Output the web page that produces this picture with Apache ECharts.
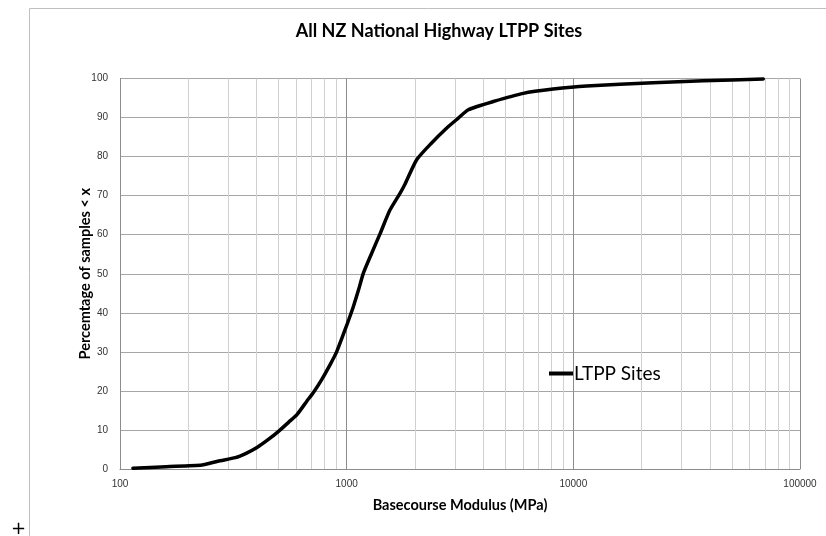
<!DOCTYPE html>
<html>
<head>
<meta charset="utf-8">
<script src="https://cdn.jsdelivr.net/npm/echarts@6/dist/echarts.min.js"></script>
<style>
html,body{margin:0;padding:0;background:#fff;}
#chart{width:826px;height:536px;}
</style>
</head>
<body>
<div id="chart"></div>
<script>
// Basecourse modulus (MPa) and cumulative percentage of samples < x
var modulus = [114, 160, 230, 270, 323, 360, 402, 450, 502, 555, 605, 666, 717, 776, 850, 903, 983, 1069, 1130, 1184, 1288, 1403, 1552, 1719, 1810, 2036, 2353, 2787, 3100, 3440, 4434, 6011, 8147, 11450, 22500, 37400, 68900];
var percent = [0.2, 0.6, 1.0, 2.0, 2.9, 4.0, 5.5, 7.5, 9.7, 12.0, 14.0, 17.3, 19.8, 22.9, 27.0, 30.0, 35.6, 41.5, 46.0, 50.1, 55.2, 60.2, 66.3, 70.6, 73.0, 79.2, 83.3, 87.5, 89.8, 92.0, 94.1, 96.2, 97.3, 98.1, 98.9, 99.4, 99.9];
var xTickLabels = [100, 1000, 10000, 100000];
var yTickLabels = [0, 10, 20, 30, 40, 50, 60, 70, 80, 90, 100];
var minorXLines = [200,300,400,500,600,700,800,900,2000,3000,4000,5000,6000,7000,8000,9000,20000,30000,40000,50000,60000,70000,80000,90000];
var seriesName = 'LTPP Sites';
var titleText = 'All NZ National Highway LTPP Sites';
var xTitle = 'Basecourse Modulus (MPa)';
var yTitle = 'Percemtage of samples < x';

var chart = echarts.init(document.getElementById('chart'), null, {renderer: 'canvas'});
var pts = modulus.map(function (m, i) { return [m, percent[i]]; });

chart.setOption({
  animation: false,
  backgroundColor: '#ffffff',
  title: {
    text: titleText,
    left: 434, top: 17, textAlign: 'center',
    textStyle: {fontFamily: 'Lato', fontWeight: 'bold', fontSize: 18, color: '#000'}
  },
  graphic: [
    {type: 'rect', shape: {x: 29.5, y: 8.5, width: 900, height: 700}, style: {fill: 'none', stroke: '#bfbfbf', lineWidth: 1}, silent: true, z: -1},
    {type: 'text', left: 11, top: 520, style: {text: '+', fontSize: 18, fontFamily: 'DejaVu Sans', fill: '#000'}}
  ],
  legend: {
    data: [seriesName],
    left: 549, top: 364, padding: 0,
    icon: 'rect', itemWidth: 24, itemHeight: 4,
    textStyle: {fontFamily: 'Lato', fontSize: 19, color: '#000', padding: [0, 0, 0, -4]}
  },
  grid: {left: 120, right: 26, top: 78.5, bottom: 67, containLabel: false},
  xAxis: {
    type: 'log', logBase: 10, min: xTickLabels[0], max: xTickLabels[xTickLabels.length - 1],
    name: xTitle, nameLocation: 'middle', nameGap: 29, nameMoveOverlap: false,
    nameTextStyle: {fontFamily: 'Lato', fontWeight: 'bold', fontSize: 14.5, color: '#000'},
    axisLine: {lineStyle: {color: '#8c8c8c', width: 1}},
    axisTick: {show: false},
    axisLabel: {
      fontFamily: 'Liberation Sans', fontSize: 10, color: '#333', margin: 10,
      formatter: function (v) { return String(Math.round(v)); }
    },
    splitLine: {show: true, lineStyle: {color: '#8c8c8c', width: 1}}
  },
  yAxis: {
    type: 'value', min: yTickLabels[0], max: yTickLabels[yTickLabels.length - 1], interval: 10,
    name: yTitle, nameLocation: 'middle', nameGap: 27, nameRotate: 90, nameMoveOverlap: false,
    nameTextStyle: {fontFamily: 'Lato', fontWeight: 'bold', fontSize: 14.5, color: '#000'},
    axisLine: {show: true, lineStyle: {color: '#8c8c8c', width: 1}},
    axisTick: {show: false},
    axisLabel: {fontFamily: 'Liberation Sans', fontSize: 10, color: '#333', margin: 12},
    splitLine: {show: true, lineStyle: {color: '#a6a6a6', width: 1}}
  },
  series: [{
    name: seriesName,
    type: 'line',
    data: pts,
    showSymbol: false,
    symbol: 'none',
    smooth: 0.2,
    lineStyle: {color: '#000', width: 3.5, join: 'round', cap: 'round'},
    itemStyle: {color: '#000'},
    z: 5,
    markLine: {
      silent: true, symbol: 'none', animation: false,
      label: {show: false},
      lineStyle: {color: '#d0d0d0', width: 1, type: 'solid'},
      emphasis: {disabled: true},
      data: minorXLines.map(function (v) { return {xAxis: v}; }),
      z: 1
    }
  }]
});
</script>
</body>
</html>
